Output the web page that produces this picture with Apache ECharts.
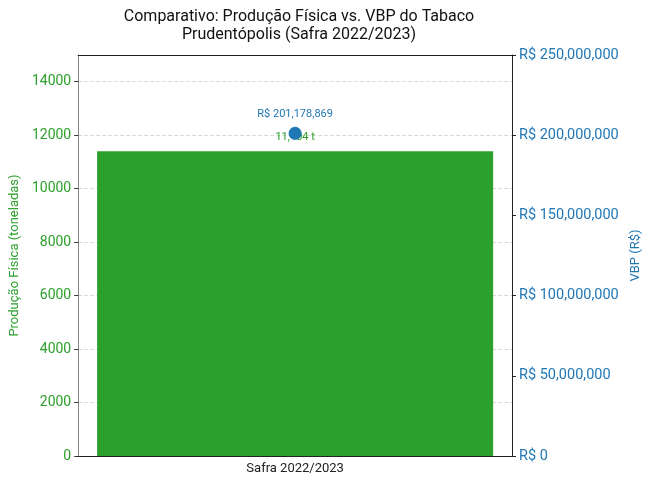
<!DOCTYPE html>
<html>
<head>
<meta charset="utf-8">
<script src="https://cdn.jsdelivr.net/npm/echarts@6/dist/echarts.min.js"></script>
<style>
  html, body { margin: 0; padding: 0; background: #fff; }
  #chart { width: 652px; height: 486px; }
</style>
</head>
<body>
<div id="chart"></div>
<script>
// dados
var categorias = ['Safra 2022/2023'];
var producao = [11404];        // toneladas
var vbp = [201178869];         // R$

var verde = '#2ca02c';
var azul = '#1f77b4';
var fonte = 'Roboto, "Noto Sans", sans-serif';

function milhar(v) {
  return String(Math.round(v)).replace(/\B(?=(\d{3})+(?!\d))/g, ',');
}

var chart = echarts.init(document.getElementById('chart'));

var option = {
  animation: false,
  textStyle: { fontFamily: fonte },
  title: {
    text: 'Comparativo: Produção Física vs. VBP do Tabaco\nPrudentópolis (Safra 2022/2023)',
    left: 294,
    top: 3,
    textAlign: 'center',
    textStyle: { fontSize: 16, fontWeight: 'normal', color: '#111', lineHeight: 18, fontFamily: fonte }
  },
  grid: {
    left: 77, right: 140, top: 55, bottom: 30
  },
  xAxis: [{
    type: 'category',
    data: categorias,
    axisLine: { onZero: false, lineStyle: { color: '#222' } },
    axisTick: { alignWithLabel: true, length: 4, lineStyle: { color: '#222' } },
    axisLabel: { color: '#222', fontSize: 13, margin: 6 }
  }, {
    // borda superior do quadro
    type: 'category',
    position: 'top',
    data: categorias,
    axisLine: { show: true, onZero: false, lineStyle: { color: '#222' } },
    axisTick: { show: false },
    axisLabel: { show: false },
    splitLine: { show: false },
    z: 10
  }],
  yAxis: [{
    type: 'value',
    min: 0, max: 15000, interval: 2000,
    name: 'Produção Física (toneladas)',
    nameLocation: 'middle',
    nameGap: 53,
    nameTextStyle: { color: verde, fontSize: 13 },
    axisLine: { show: true, lineStyle: { color: '#888' } },
    axisTick: { show: true, length: 4, lineStyle: { color: '#333' } },
    axisLabel: {
      color: verde, fontSize: 14, showMaxLabel: false, margin: 7,
      formatter: function (v) { return String(v); }
    },
    splitLine: { lineStyle: { type: 'dashed', color: '#d8d8d8' } }
  }, {
    type: 'value',
    min: 0, max: 250000000, interval: 50000000,
    name: 'VBP (R$)',
    nameLocation: 'middle',
    nameGap: 116,
    nameRotate: 90,
    nameTextStyle: { color: azul, fontSize: 13 },
    axisLine: { show: true, lineStyle: { color: '#222' } },
    axisTick: { show: true, length: 4, lineStyle: { color: '#222' } },
    axisLabel: {
      color: azul, fontSize: 14.5, margin: 7,
      formatter: function (v) { return 'R$ ' + milhar(v); }
    },
    splitLine: { show: false }
  }],
  series: [{
    type: 'bar',
    data: producao,
    barWidth: 396,
    itemStyle: { color: verde },
    label: {
      show: true, position: 'top', distance: 8,
      color: verde, fontSize: 11,
      formatter: function (p) { return milhar(p.value) + ' t'; }
    },
    z: 2
  }, {
    type: 'scatter',
    yAxisIndex: 1,
    data: vbp,
    symbol: 'circle',
    symbolSize: 13,
    itemStyle: { color: azul, opacity: 1 },
    emphasis: { disabled: true },
    label: {
      show: true, position: 'top', distance: 7,
      color: azul, fontSize: 11,
      formatter: function (p) { return 'R$ ' + milhar(p.value); }
    },
    z: 5
  }]
};

chart.setOption(option);
</script>
</body>
</html>
